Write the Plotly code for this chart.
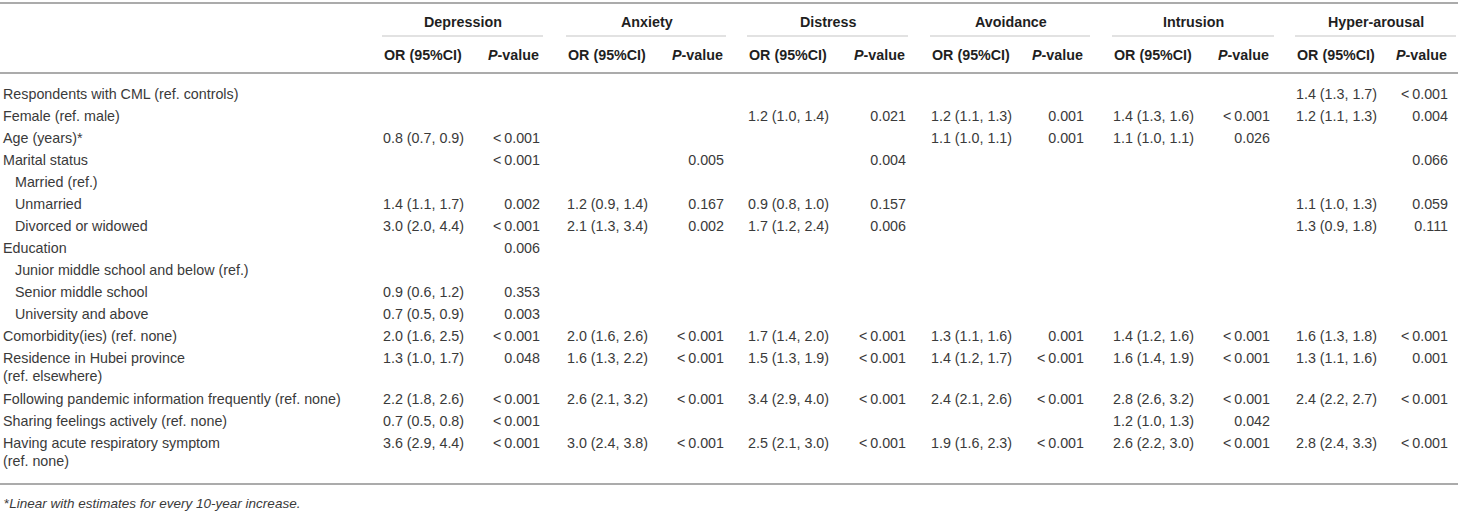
import plotly.graph_objects as go

# === table content ===
outcomes = ["Depression", "Anxiety", "Distress", "Avoidance", "Intrusion", "Hyper-arousal"]

row_labels = [
    "Respondents with CML (ref. controls)",
    "Female (ref. male)",
    "Age (years)*",
    "Marital status",
    "Married (ref.)",
    "Unmarried",
    "Divorced or widowed",
    "Education",
    "Junior middle school and below (ref.)",
    "Senior middle school",
    "University and above",
    "Comorbidity(ies) (ref. none)",
    "Residence in Hubei province<br>(ref. elsewhere)",
    "Following pandemic information frequently (ref. none)",
    "Sharing feelings actively (ref. none)",
    "Having acute respiratory symptom<br>(ref. none)",
]
row_indent = [0, 0, 0, 0, 1, 1, 1, 0, 1, 1, 1, 0, 0, 0, 0, 0]

L = "<\u20090.001"

dep_or = ["", "", "0.8 (0.7, 0.9)", "", "", "1.4 (1.1, 1.7)", "3.0 (2.0, 4.4)", "", "",
          "0.9 (0.6, 1.2)", "0.7 (0.5, 0.9)", "2.0 (1.6, 2.5)", "1.3 (1.0, 1.7)",
          "2.2 (1.8, 2.6)", "0.7 (0.5, 0.8)", "3.6 (2.9, 4.4)"]
dep_p = ["", "", L, L, "", "0.002", L, "0.006", "", "0.353", "0.003", L, "0.048", L, L, L]

anx_or = ["", "", "", "", "", "1.2 (0.9, 1.4)", "2.1 (1.3, 3.4)", "", "", "", "",
          "2.0 (1.6, 2.6)", "1.6 (1.3, 2.2)", "2.6 (2.1, 3.2)", "", "3.0 (2.4, 3.8)"]
anx_p = ["", "", "", "0.005", "", "0.167", "0.002", "", "", "", "", L, L, L, "", L]

dis_or = ["", "1.2 (1.0, 1.4)", "", "", "", "0.9 (0.8, 1.0)", "1.7 (1.2, 2.4)", "", "", "", "",
          "1.7 (1.4, 2.0)", "1.5 (1.3, 1.9)", "3.4 (2.9, 4.0)", "", "2.5 (2.1, 3.0)"]
dis_p = ["", "0.021", "", "0.004", "", "0.157", "0.006", "", "", "", "", L, L, L, "", L]

avo_or = ["", "1.2 (1.1, 1.3)", "1.1 (1.0, 1.1)", "", "", "", "", "", "", "", "",
          "1.3 (1.1, 1.6)", "1.4 (1.2, 1.7)", "2.4 (2.1, 2.6)", "", "1.9 (1.6, 2.3)"]
avo_p = ["", "0.001", "0.001", "", "", "", "", "", "", "", "", "0.001", L, L, "", L]

int_or = ["", "1.4 (1.3, 1.6)", "1.1 (1.0, 1.1)", "", "", "", "", "", "", "", "",
          "1.4 (1.2, 1.6)", "1.6 (1.4, 1.9)", "2.8 (2.6, 3.2)", "1.2 (1.0, 1.3)", "2.6 (2.2, 3.0)"]
int_p = ["", L, "0.026", "", "", "", "", "", "", "", "", L, L, L, "0.042", L]

hyp_or = ["1.4 (1.3, 1.7)", "1.2 (1.1, 1.3)", "", "", "", "1.1 (1.0, 1.3)", "1.3 (0.9, 1.8)", "", "", "", "",
          "1.6 (1.3, 1.8)", "1.3 (1.1, 1.6)", "2.4 (2.2, 2.7)", "", "2.8 (2.4, 3.3)"]
hyp_p = [L, "0.004", "", "0.066", "", "0.059", "0.111", "", "", "", "", L, "0.001", L, "", L]

or_cols = [dep_or, anx_or, dis_or, avo_or, int_or, hyp_or]
p_cols = [dep_p, anx_p, dis_p, avo_p, int_p, hyp_p]

footnote = "*<i>Linear with estimates for every 10-year increase.</i>"

# === layout (pixel space) ===
W, H = 1458, 514
FONT = "Liberation Sans, Arial, Helvetica, sans-serif"
TXT = "#3a3a3a"
HEAD = "#1f1f1f"
RULE = "#ababab"
SUBRULE = "#c6c6c6"
FS = 14.3

label_x = 3
indent_px = 12
or_left = [383, 567, 748, 931, 1113, 1296]
p_right = [540, 724, 906, 1084, 1270, 1448]
grp_right = [543, 726, 908, 1090, 1274, 1456]

y_group = 22
y_uline = 36
y_sub = 55
y_top = 3
y_mid = 73
row0 = 95
row_h = 22
wrap_h = 19

row_y = []
y = row0
for lab in row_labels:
    row_y.append(y)
    y += row_h + wrap_h * lab.count("<br>")
y_bottom = 484
y_foot = 503

fig = go.Figure()

# row labels (wrapped ones are centred between their two lines)
lab_y = [ry + wrap_h * lab.count("<br>") / 2 for ry, lab in zip(row_y, row_labels)]
lab_x = [label_x + indent_px * ind for ind in row_indent]
fig.add_trace(go.Scatter(
    x=lab_x, y=lab_y, mode="text", text=row_labels,
    textposition="middle right",
    textfont=dict(family=FONT, size=FS, color=TXT),
    hoverinfo="skip", showlegend=False,
))

for i in range(len(outcomes)):
    fig.add_trace(go.Scatter(
        x=[or_left[i]] * len(row_y), y=row_y, mode="text", text=or_cols[i],
        textposition="middle right",
        textfont=dict(family=FONT, size=FS, color=TXT),
        hoverinfo="skip", showlegend=False,
    ))
    fig.add_trace(go.Scatter(
        x=[p_right[i]] * len(row_y), y=row_y, mode="text", text=p_cols[i],
        textposition="middle left",
        textfont=dict(family=FONT, size=FS, color=TXT),
        hoverinfo="skip", showlegend=False,
    ))
    # headers
    fig.add_annotation(
        x=(or_left[i] + grp_right[i]) / 2, y=y_group, text="<b>%s</b>" % outcomes[i],
        showarrow=False, xanchor="center", yanchor="middle",
        font=dict(family=FONT, size=FS, color=HEAD),
    )
    fig.add_annotation(
        x=or_left[i], y=y_sub, text="<b>OR (95%CI)</b>",
        showarrow=False, xanchor="left", yanchor="middle", borderpad=0,
        font=dict(family=FONT, size=FS, color=HEAD),
    )
    fig.add_annotation(
        x=p_right[i], y=y_sub, text="<b><i>P</i>-value</b>",
        showarrow=False, xanchor="right", yanchor="middle", borderpad=0,
        font=dict(family=FONT, size=FS, color=HEAD),
    )
    fig.add_shape(type="line", x0=or_left[i] - 1, x1=grp_right[i], y0=y_uline, y1=y_uline,
                  line=dict(color=SUBRULE, width=1.2))

# horizontal rules
for yy in (y_top, y_mid, y_bottom):
    fig.add_shape(type="line", x0=0, x1=W, y0=yy, y1=yy, line=dict(color=RULE, width=2))

fig.add_annotation(
    x=label_x, y=y_foot, text=footnote, showarrow=False,
    xanchor="left", yanchor="middle", borderpad=0,
    font=dict(family=FONT, size=13.5, color=TXT),
)

fig.update_layout(
    width=W, height=H,
    margin=dict(l=0, r=0, t=0, b=0),
    paper_bgcolor="white", plot_bgcolor="white",
    xaxis=dict(range=[0, W], visible=False, fixedrange=True),
    yaxis=dict(range=[H, 0], visible=False, fixedrange=True),
    showlegend=False,
)

# drop the default page margin so the table sits at the window's top-left corner
fig.write_html("out.html", config={"displayModeBar": False, "staticPlot": True},
               post_script="document.body.style.margin='0';")
